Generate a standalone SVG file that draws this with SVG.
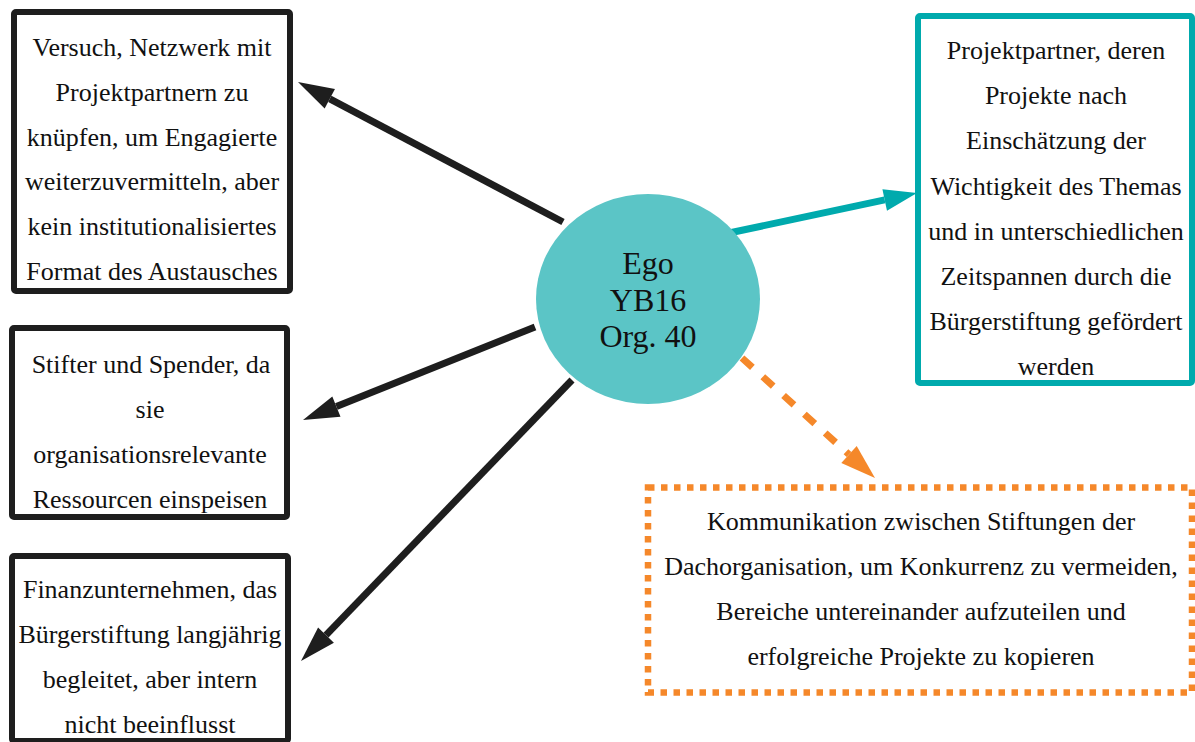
<svg xmlns="http://www.w3.org/2000/svg" width="1195" height="742" viewBox="0 0 1195 742">
  <style>
    .lbl { font-family: "Liberation Serif", "Times New Roman", serif; font-size: 26px; fill: #111; text-anchor: middle; }
    .ego { font-family: "Liberation Serif", "Times New Roman", serif; font-size: 32px; fill: #111; text-anchor: middle; }
    .box { fill: #fff; stroke: #1e1e1e; stroke-width: 6; stroke-linejoin: round; }
    .box-teal { fill: #fff; stroke: #00aaad; stroke-width: 6; stroke-linejoin: round; }
    .box-orange { fill: #fff; stroke: #f5882a; stroke-width: 6.5; stroke-dasharray: 6.5 6.5; }
    .edge { fill: none; stroke: #1e1e1e; stroke-width: 7; }
    .edge-teal { fill: none; stroke: #00aaad; stroke-width: 7; }
    .edge-orange { fill: none; stroke: #f5882a; stroke-width: 7; stroke-dasharray: 14 14; }
  </style>
  <defs>
    <marker id="head-black" markerUnits="userSpaceOnUse" markerWidth="36" markerHeight="22" refX="0" refY="11" orient="auto" overflow="visible">
      <path d="M0,0 L36,11 L0,22 Z" fill="#1e1e1e"/>
    </marker>
    <marker id="head-teal" markerUnits="userSpaceOnUse" markerWidth="33" markerHeight="22" refX="0" refY="11" orient="auto" overflow="visible">
      <path d="M0,0 L33,11 L0,22 Z" fill="#00aaad"/>
    </marker>
    <marker id="head-orange" markerUnits="userSpaceOnUse" markerWidth="35" markerHeight="23" refX="0" refY="11.5" orient="auto" overflow="visible">
      <path d="M0,0 L35,11.5 L0,23 Z" fill="#f5882a"/>
    </marker>
  </defs>

  <rect width="1195" height="742" fill="#fff"/>

  <!-- connectors from the central node -->
  <g id="connectors">
    <line class="edge" x1="563" y1="222" x2="329.8" y2="98.8" marker-end="url(#head-black)"/>
    <line class="edge" x1="535" y1="327" x2="336.4" y2="406.6" marker-end="url(#head-black)"/>
    <line class="edge" x1="572" y1="380" x2="326" y2="635.1" marker-end="url(#head-black)"/>
    <line class="edge-teal" x1="729" y1="233" x2="884.7" y2="199.9" marker-end="url(#head-teal)"/>
    <line class="edge-orange" x1="742" y1="358" x2="849" y2="454.5" marker-end="url(#head-orange)"/>
  </g>

  <g id="ego">
    <ellipse cx="648" cy="299" rx="112" ry="105" fill="#5bc5c6"/>
    <text class="ego" x="648" y="274">Ego</text>
    <text class="ego" x="648" y="311">YB16</text>
    <text class="ego" x="648" y="347">Org. 40</text>
  </g>

  <g id="netzwerk">
    <rect class="box" x="14" y="12" width="276" height="279" rx="2"/>
    <text class="lbl" x="152" y="56">Versuch, Netzwerk mit</text>
    <text class="lbl" x="152" y="100.8">Projektpartnern zu</text>
    <text class="lbl" x="152" y="145.6">knüpfen, um Engagierte</text>
    <text class="lbl" x="152" y="190.4">weiterzuvermitteln, aber</text>
    <text class="lbl" x="152" y="235.2">kein institutionalisiertes</text>
    <text class="lbl" x="152" y="280">Format des Austausches</text>
  </g>

  <g id="stifter">
    <rect class="box" x="12" y="328" width="275" height="189" rx="2"/>
    <text class="lbl" x="151" y="373">Stifter und Spender, da</text>
    <text class="lbl" x="150" y="418">sie</text>
    <text class="lbl" x="150" y="463">organisationsrelevante</text>
    <text class="lbl" x="150" y="508">Ressourcen einspeisen</text>
  </g>

  <g id="finanz">
    <rect class="box" x="12" y="556" width="276" height="185" rx="2"/>
    <text class="lbl" x="150" y="598">Finanzunternehmen, das</text>
    <text class="lbl" x="150" y="643">Bürgerstiftung langjährig</text>
    <text class="lbl" x="150" y="688">begleitet, aber intern</text>
    <text class="lbl" x="150" y="733">nicht beeinflusst</text>
  </g>

  <g id="projektpartner">
    <rect class="box-teal" x="918" y="16" width="274" height="367" rx="2"/>
    <text class="lbl" x="1056" y="59">Projektpartner, deren</text>
    <text class="lbl" x="1056" y="104.2">Projekte nach</text>
    <text class="lbl" x="1056" y="149.4">Einschätzung der</text>
    <text class="lbl" x="1056" y="194.6">Wichtigkeit des Themas</text>
    <text class="lbl" x="1056" y="239.8">und in unterschiedlichen</text>
    <text class="lbl" x="1056" y="285">Zeitspannen durch die</text>
    <text class="lbl" x="1056" y="330.2">Bürgerstiftung gefördert</text>
    <text class="lbl" x="1056" y="375.4">werden</text>
  </g>

  <g id="dachorganisation">
    <rect class="box-orange" x="648" y="487.5" width="544" height="205"/>
    <text class="lbl" x="921" y="530">Kommunikation zwischen Stiftungen der</text>
    <text class="lbl" x="921" y="575">Dachorganisation, um Konkurrenz zu vermeiden,</text>
    <text class="lbl" x="921" y="620">Bereiche untereinander aufzuteilen und</text>
    <text class="lbl" x="921" y="665">erfolgreiche Projekte zu kopieren</text>
  </g>
</svg>
